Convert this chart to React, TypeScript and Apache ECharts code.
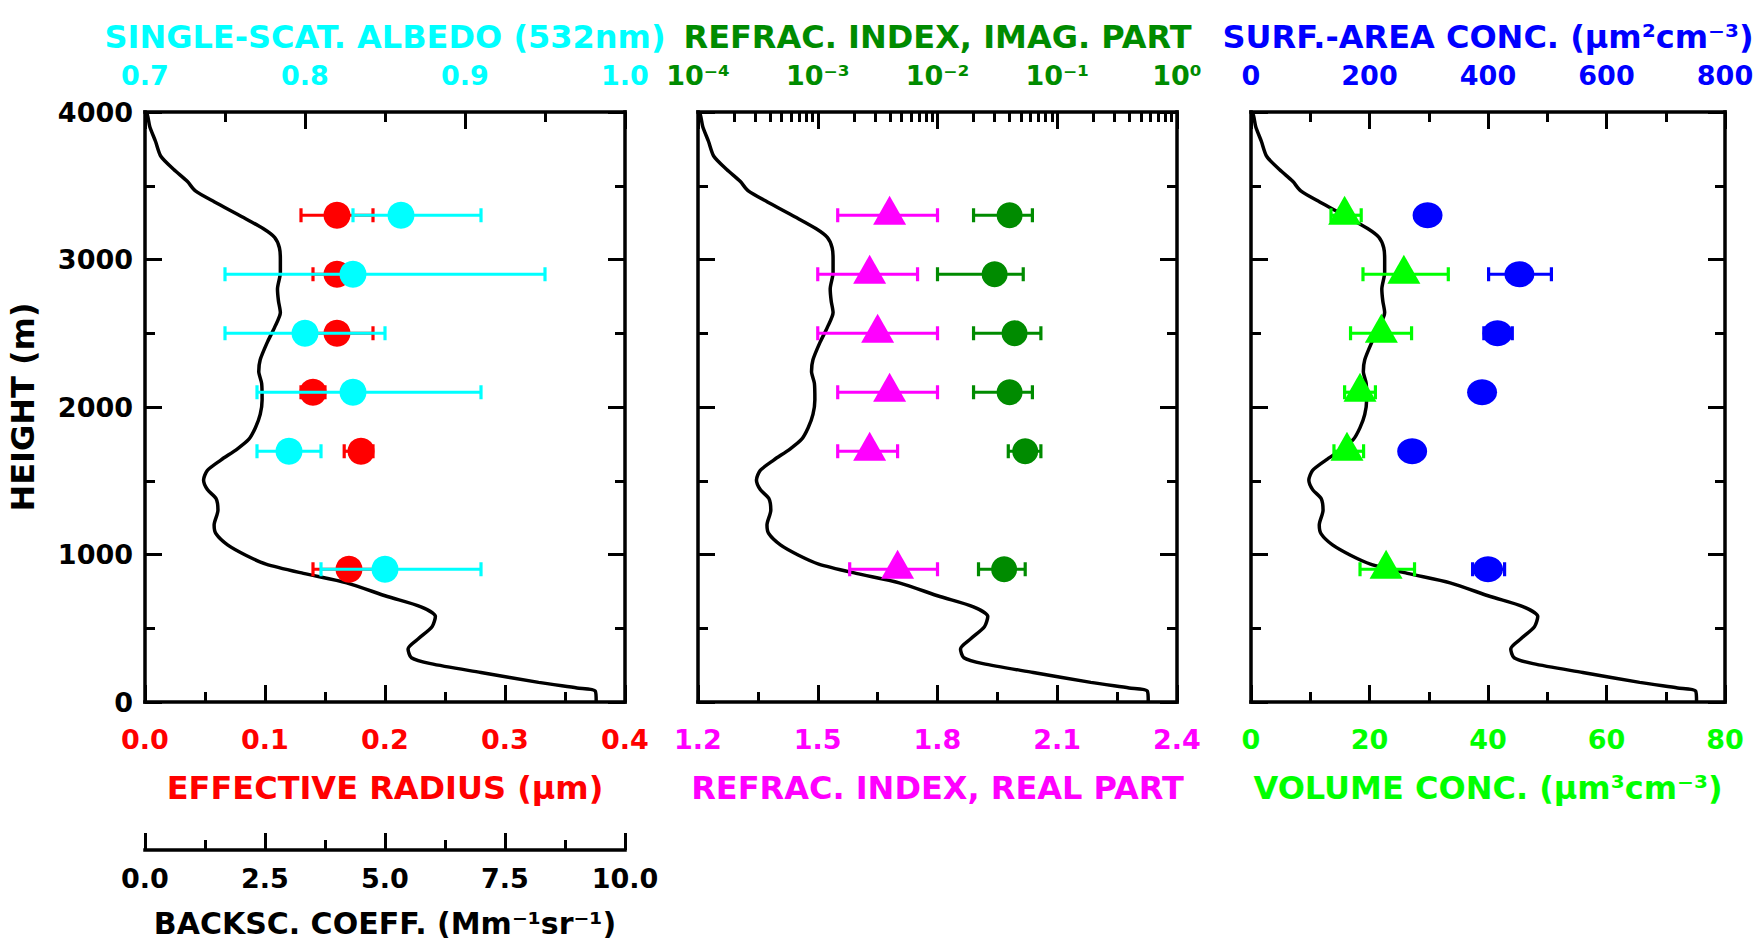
import React, { useEffect, useRef } from 'react';
import * as echarts from 'echarts';

// Measurement heights (m)
const LEVELS = [3300, 2900, 2500, 2100, 1700, 900];

// Panel 1: effective radius (µm) and single-scattering albedo
const RADIUS = [0.16, 0.16, 0.16, 0.14, 0.18, 0.17];
const RADIUS_LO = [0.13, 0.14, 0.13, 0.13, 0.166, 0.14];
const RADIUS_HI = [0.19, 0.18, 0.19, 0.15, 0.19, 0.2];

const ALBEDO = [0.86, 0.83, 0.8, 0.83, 0.79, 0.85];
const ALBEDO_LO = [0.83, 0.75, 0.75, 0.77, 0.77, 0.81];
const ALBEDO_HI = [0.91, 0.95, 0.85, 0.91, 0.81, 0.91];

// Panel 2: refractive index real / imaginary part
const REAL = [1.68, 1.63, 1.65, 1.68, 1.63, 1.7];
const REAL_LO = [1.55, 1.5, 1.5, 1.55, 1.55, 1.58];
const REAL_HI = [1.8, 1.75, 1.8, 1.8, 1.7, 1.8];

const IMAG = [0.04, 0.03, 0.044, 0.04, 0.054, 0.036];
const IMAG_LO = [0.02, 0.01, 0.02, 0.02, 0.039, 0.022];
const IMAG_HI = [0.062, 0.052, 0.073, 0.062, 0.073, 0.054];

// Panel 3: volume and surface-area concentration
const VOLUME = [15.8, 25.8, 22.0, 18.4, 16.2, 22.8];
const VOLUME_LO = [13.5, 18.9, 16.8, 15.8, 14.0, 18.4];
const VOLUME_HI = [18.6, 33.3, 27.1, 21.0, 19.0, 27.6];

const SURFACE = [298, 453, 416, 390, 272, 400];
const SURFACE_LO = [290, 401, 393, 378, 262, 374];
const SURFACE_HI = [306, 507, 441, 402, 282, 428];

// Backscatter coefficient profile (Mm^-1 sr^-1) vs height (m)
const BACKSC_HEIGHT = [4000, 3980, 3900, 3800, 3700, 3610, 3530, 3465, 3390, 3290, 3210, 3150, 3080, 3000, 2910, 2800, 2720, 2640, 2540, 2440, 2320, 2240, 2160, 2050, 1950, 1860, 1780, 1715, 1640, 1570, 1505, 1440, 1380, 1300, 1200, 1140, 1065, 995, 935, 872, 808, 715, 645, 580, 510, 430, 360, 300, 260, 200, 133, 95, 75, 0];
const BACKSC_VALUE = [0.0, 0.05, 0.1, 0.22, 0.33, 0.6, 0.88, 1.05, 1.45, 2.02, 2.46, 2.7, 2.8, 2.82, 2.82, 2.76, 2.78, 2.82, 2.7, 2.55, 2.4, 2.37, 2.43, 2.44, 2.4, 2.3, 2.16, 1.92, 1.58, 1.3, 1.22, 1.3, 1.48, 1.52, 1.44, 1.48, 1.72, 2.1, 2.52, 3.3, 4.2, 5.05, 5.75, 6.05, 5.98, 5.7, 5.48, 5.55, 5.95, 7.0, 8.2, 9.0, 9.38, 9.4];

const FONT = '"DejaVu Sans", "Liberation Sans", sans-serif';
const TICK_FONT = 27;
const TITLE_FONT = 32;

const C_RED = '#FF0000';
const C_CYAN = '#00FFFF';
const C_MAGENTA = '#FF00FF';
const C_DKGREEN = '#008B00';
const C_GREEN = '#00FF00';
const C_BLUE = '#0000FF';

const SUP: Record<string, string> = { '-': '\u207B', '0': '\u2070', '1': '\u00B9', '2': '\u00B2', '3': '\u00B3', '4': '\u2074' };

function axisBase(color: string, extra: any) {
  return {
    type: 'value',
    silent: true,
    axisLine: { show: true, onZero: false, lineStyle: { color: '#000', width: 3.5, cap: 'square' } },
    axisTick: { show: true, inside: true, length: 17, lineStyle: { color: '#000', width: 3 } },
    minorTick: { show: true, splitNumber: 2, length: 10, lineStyle: { color: '#000', width: 3 } },
    splitLine: { show: false },
    minorSplitLine: { show: false },
    axisLabel: {
      show: true,
      color,
      fontFamily: FONT,
      fontWeight: 'bold',
      fontSize: TICK_FONT,
      showMinLabel: true,
      showMaxLabel: true,
      hideOverlap: false,
    },
    nameLocation: 'middle',
    nameMoveOverlap: false,
    nameTextStyle: { color, fontFamily: FONT, fontWeight: 'bold', fontSize: TITLE_FONT },
    ...extra,
  };
}

function hiddenAxis(gridIndex: number) {
  return { type: 'value', gridIndex, position: 'bottom', min: 0, max: 10, show: false };
}

function curveSeries(xAxisIndex: number, yAxisIndex: number) {
  return {
    type: 'line',
    xAxisIndex,
    yAxisIndex,
    data: BACKSC_VALUE.map((v, i) => [v, BACKSC_HEIGHT[i]]),
    showSymbol: false,
    symbol: 'none',
    smooth: 0.25,
    lineStyle: { color: '#000', width: 3.5 },
    silent: true,
    z: 2,
  };
}

function errorBars(lo: number[], hi: number[], color: string, xAxisIndex: number, yAxisIndex: number, z: number) {
  return {
    type: 'custom',
    xAxisIndex,
    yAxisIndex,
    data: LEVELS.map((h, i) => [lo[i], hi[i], h]),
    encode: { x: [0, 1], y: 2 },
    silent: true,
    z,
    renderItem: (_params: any, api: any) => {
      const a = api.coord([api.value(0), api.value(2)]);
      const b = api.coord([api.value(1), api.value(2)]);
      const c = 7;
      const style = { stroke: color, lineWidth: 3.2 };
      return {
        type: 'group',
        children: [
          { type: 'line', shape: { x1: a[0], y1: a[1], x2: b[0], y2: b[1] }, style },
          { type: 'line', shape: { x1: a[0], y1: a[1] - c, x2: a[0], y2: a[1] + c }, style },
          { type: 'line', shape: { x1: b[0], y1: b[1] - c, x2: b[0], y2: b[1] + c }, style },
        ],
      };
    },
  };
}

function points(vals: number[], color: string, symbol: string, size: any, offsetY: number, xAxisIndex: number, yAxisIndex: number, z: number) {
  return {
    type: 'scatter',
    xAxisIndex,
    yAxisIndex,
    data: LEVELS.map((h, i) => [vals[i], h]),
    symbol,
    symbolSize: size,
    symbolOffset: [0, offsetY],
    itemStyle: { color, opacity: 1 },
    silent: true,
    z,
  };
}

export default function App() {
  const ref = useRef<HTMLDivElement>(null);

  useEffect(() => {
    if (!ref.current) return;
    const chart = echarts.init(ref.current, null, { renderer: 'svg' });
    const fix1 = (v: number) => v.toFixed(1);
    const plain = (v: number) => String(Math.round(v));
    const logLabel = (v: number) => {
      const e = String(Math.round(Math.log10(v)));
      return '10' + e.split('').map((ch) => SUP[ch] || ch).join('');
    };

    const gridCommon = { top: 112, height: 590, containLabel: false, outerBoundsMode: 'none' };

    const yLeft = (gridIndex: number, labels: boolean) =>
      axisBase('#000', {
        gridIndex,
        position: 'left',
        min: 0,
        max: 4000,
        interval: 1000,
        axisLabel: {
          show: labels,
          color: '#000',
          fontFamily: FONT,
          fontWeight: 'bold',
          fontSize: TICK_FONT,
          margin: 12,
          formatter: plain,
          showMinLabel: true,
          showMaxLabel: true,
        },
        name: labels ? 'HEIGHT (m)' : '',
        nameRotate: 90,
        nameGap: 106,
      });
    const yRight = (gridIndex: number) =>
      axisBase('#000', {
        gridIndex,
        position: 'right',
        min: 0,
        max: 4000,
        interval: 1000,
        axisLabel: { show: false },
      });

    const lbl = (color: string, margin: number, formatter: any) => ({
      color, fontFamily: FONT, fontWeight: 'bold', fontSize: TICK_FONT, margin, formatter, showMinLabel: true, showMaxLabel: true,
    });

    const option: any = {
      animation: false,
      backgroundColor: '#ffffff',
      grid: [
        { ...gridCommon, left: 145, width: 480 },
        { ...gridCommon, left: 698, width: 479 },
        { ...gridCommon, left: 1251, width: 474 },
      ],
      xAxis: [
        // 0: effective radius
        axisBase(C_RED, {
          gridIndex: 0, position: 'bottom', min: 0, max: 0.4, interval: 0.1,
          axisLabel: lbl(C_RED, 24, fix1),
          name: 'EFFECTIVE RADIUS (\u00B5m)', nameGap: 70,
        }),
        // 1: albedo
        axisBase(C_CYAN, {
          gridIndex: 0, position: 'top', min: 0.7, max: 1.0, interval: 0.1,
          axisLabel: lbl(C_CYAN, 23, fix1),
          name: 'SINGLE-SCAT. ALBEDO (532nm)', nameGap: 59,
        }),
        // 2: backscatter (separate axis below panel 1)
        axisBase('#000', {
          gridIndex: 0, position: 'bottom', offset: 148, min: 0, max: 10, interval: 2.5,
          axisLabel: lbl('#000', 15, fix1),
          name: 'BACKSC. COEFF. (Mm\u207B\u00B9sr\u207B\u00B9)', nameGap: 58,
          nameTextStyle: { color: '#000', fontFamily: FONT, fontWeight: 'bold', fontSize: 30 },
        }),
        // 3: real part
        axisBase(C_MAGENTA, {
          gridIndex: 1, position: 'bottom', min: 1.2, max: 2.4, interval: 0.3,
          axisLabel: lbl(C_MAGENTA, 24, fix1),
          name: 'REFRAC. INDEX, REAL PART', nameGap: 70,
        }),
        // 4: imaginary part (log)
        axisBase(C_DKGREEN, {
          type: 'log', logBase: 10,
          gridIndex: 1, position: 'top', min: 0.0001, max: 1,
          minorTick: { show: true, splitNumber: 9, length: 10, lineStyle: { color: '#000', width: 3 } },
          axisLabel: lbl(C_DKGREEN, 23, logLabel),
          name: 'REFRAC. INDEX, IMAG. PART', nameGap: 59,
        }),
        // 5: hidden backscatter for panel 2
        hiddenAxis(1),
        // 6: volume concentration
        axisBase(C_GREEN, {
          gridIndex: 2, position: 'bottom', min: 0, max: 80, interval: 20,
          axisLabel: lbl(C_GREEN, 24, plain),
          name: 'VOLUME CONC. (\u00B5m\u00B3cm\u207B\u00B3)', nameGap: 70,
        }),
        // 7: surface-area concentration
        axisBase(C_BLUE, {
          gridIndex: 2, position: 'top', min: 0, max: 800, interval: 200,
          axisLabel: lbl(C_BLUE, 23, plain),
          name: 'SURF.-AREA CONC. (\u00B5m\u00B2cm\u207B\u00B3)', nameGap: 59,
        }),
        // 8: hidden backscatter for panel 3
        hiddenAxis(2),
      ],
      yAxis: [yLeft(0, true), yRight(0), yLeft(1, false), yRight(1), yLeft(2, false), yRight(2)],
      series: [
        // Panel 1
        curveSeries(2, 0),
        errorBars(RADIUS_LO, RADIUS_HI, C_RED, 0, 0, 3),
        points(RADIUS, C_RED, 'circle', 27, 0, 0, 0, 4),
        errorBars(ALBEDO_LO, ALBEDO_HI, C_CYAN, 1, 0, 5),
        points(ALBEDO, C_CYAN, 'circle', 27, 0, 1, 0, 6),
        // Panel 2
        curveSeries(5, 2),
        errorBars(REAL_LO, REAL_HI, C_MAGENTA, 3, 2, 3),
        points(REAL, C_MAGENTA, 'triangle', [33, 29], -5, 3, 2, 4),
        errorBars(IMAG_LO, IMAG_HI, C_DKGREEN, 4, 2, 5),
        points(IMAG, C_DKGREEN, 'circle', 26, 0, 4, 2, 6),
        // Panel 3
        curveSeries(8, 4),
        errorBars(VOLUME_LO, VOLUME_HI, C_GREEN, 6, 4, 3),
        points(VOLUME, C_GREEN, 'triangle', [33, 29], -5, 6, 4, 4),
        errorBars(SURFACE_LO, SURFACE_HI, C_BLUE, 7, 4, 5),
        points(SURFACE, C_BLUE, 'circle', [30, 26], 0, 7, 4, 6),
      ],
    };

    chart.setOption(option);
    return () => {
      chart.dispose();
    };
  }, []);

  return (
    <div
      ref={ref}
      style={{ position: 'absolute', left: 0, top: 0, width: 1762, height: 944, background: '#fff' }}
    />
  );
}
